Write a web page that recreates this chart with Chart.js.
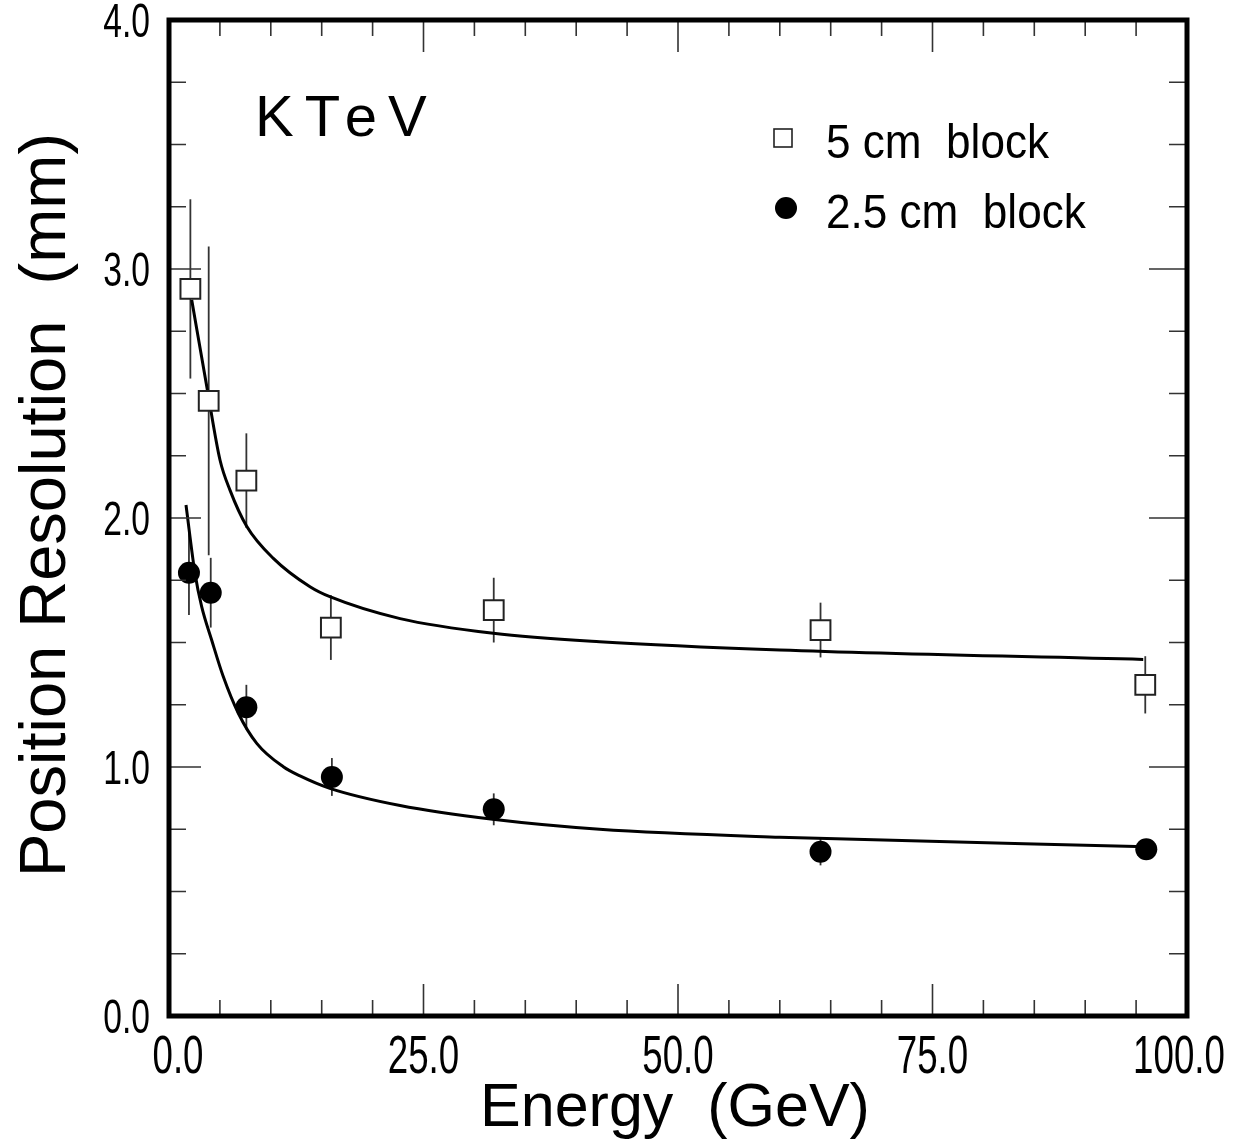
<!DOCTYPE html>
<html>
<head>
<meta charset="utf-8">
<script src="https://cdn.jsdelivr.net/npm/chart.js@4.4.0/dist/chart.umd.min.js"></script>
<style>
  html, body { margin: 0; padding: 0; background: #fff; }
  canvas { display: block; }
</style>
</head>
<body>
<canvas id="grafico" width="1235" height="1147"></canvas>
<script>
// --- datos ---
// bloque de 5 cm (cuadrados abiertos)
const energia5 = [2.1, 3.9, 7.6, 15.9, 31.9, 64.0, 95.9];
const resol5 = [2.92, 2.47, 2.15, 1.56, 1.63, 1.55, 1.33];
const error5 = [0.36, 0.62, 0.19, 0.13, 0.13, 0.11, 0.115];

// bloque de 2.5 cm (circulos llenos)
const energia25 = [1.96, 4.1, 7.6, 16.0, 31.9, 64.0, 96.0];
const resol25 = [1.78, 1.70, 1.24, 0.96, 0.83, 0.66, 0.67];
const error25 = [0.17, 0.14, 0.09, 0.076, 0.064, 0.055, 0.03];

// curvas de ajuste (puntos leidos sobre la linea)
const ajusteX5 = [2.23, 3.77, 5.01, 5.99, 7.63, 10.25, 13.85, 15.8, 22.7, 31.86, 42.3, 60.0, 95.7];
const ajusteY5 = [2.876, 2.514, 2.233, 2.112, 1.967, 1.838, 1.724, 1.684, 1.596, 1.537, 1.503, 1.470, 1.432];
const ajusteX25 = [1.67, 2.55, 3.21, 4.19, 5.33, 6.81, 8.62, 11.23, 12.87, 15.8, 22.7, 31.8, 42.3, 60.0, 96.0];
const ajusteY25 = [2.052, 1.778, 1.644, 1.510, 1.363, 1.216, 1.095, 1.001, 0.964, 0.914, 0.845, 0.790, 0.750, 0.718, 0.680];

// ejes
const ticksX = [0, 25, 50, 75, 100];
const etiquetasX = ["0.0", "25.0", "50.0", "75.0", "100.0"];
const ticksY = [0, 1, 2, 3, 4];
const etiquetasY = ["0.0", "1.0", "2.0", "3.0", "4.0"];
const nombres = ["5 cm  block", "2.5 cm  block"];

const FUENTE = '"Liberation Sans", Arial, Helvetica, sans-serif';

function puntos(xs, ys) {
    return xs.map((x, i) => ({ x: x, y: ys[i] }));
}

function texto(ctx, str, x, y, size, align, escalaX) {
    ctx.save();
    ctx.font = size + 'px ' + FUENTE;
    ctx.fillStyle = '#000';
    ctx.textBaseline = 'alphabetic';
    ctx.translate(x, y);
    ctx.scale(escalaX || 1, 1);
    ctx.textAlign = align;
    ctx.fillText(str, 0, 0);
    ctx.restore();
}

// barras de error verticales, antes de los marcadores
const barrasError = {
    id: 'barrasError',
    beforeDatasetsDraw(chart) {
        const ctx = chart.ctx;
        const sx = chart.scales.x, sy = chart.scales.y;
        ctx.save();
        ctx.strokeStyle = '#333';
        ctx.lineWidth = 1.8;
        const dibujar = (xs, ys, es) => {
            xs.forEach((e, i) => {
                const px = sx.getPixelForValue(e);
                ctx.beginPath();
                ctx.moveTo(px, sy.getPixelForValue(ys[i] + es[i]));
                ctx.lineTo(px, sy.getPixelForValue(ys[i] - es[i]));
                ctx.stroke();
            });
        };
        dibujar(energia5, resol5, error5);
        dibujar(energia25, resol25, error25);
        ctx.restore();
    }
};

// marco, ticks hacia dentro, textos y leyenda
const marco = {
    id: 'marco',
    afterDraw(chart) {
        const ctx = chart.ctx;
        const a = chart.chartArea;
        const sx = chart.scales.x, sy = chart.scales.y;
        ctx.save();

        // ticks
        ctx.strokeStyle = '#333';
        ctx.lineWidth = 1.6;
        ctx.beginPath();
        for (let v = 0; v <= 100; v += 5) {
            const px = sx.getPixelForValue(v);
            const largo = v % 25 === 0 ? 32 : 16;
            ctx.moveTo(px, a.bottom); ctx.lineTo(px, a.bottom - largo);
            ctx.moveTo(px, a.top); ctx.lineTo(px, a.top + largo);
        }
        for (let k = 0; k <= 16; k++) {
            const v = k * 0.25;
            const py = sy.getPixelForValue(v);
            const mayor = k % 4 === 0;
            ctx.moveTo(a.left, py); ctx.lineTo(a.left + (mayor ? 32 : 17), py);
            ctx.moveTo(a.right, py); ctx.lineTo(a.right - (mayor ? 38 : 18), py);
        }
        ctx.stroke();

        // marco
        ctx.strokeStyle = '#000';
        ctx.lineWidth = 5;
        ctx.strokeRect(a.left, a.top, a.right - a.left, a.bottom - a.top);

        // etiquetas eje y (estrechas)
        ticksY.forEach((v, i) => {
            texto(ctx, etiquetasY[i], 150, sy.getPixelForValue(v) + 17, 48, 'right', 0.7);
        });
        // etiquetas eje x (estrechas)
        ticksX.forEach((v, i) => {
            let px = sx.getPixelForValue(v);
            if (i === 0) px += 9;
            if (i === ticksX.length - 1) px -= 8;
            texto(ctx, etiquetasX[i], px, 1073, 54, 'center', 0.68);
        });

        // titulos
        texto(ctx, 'Energy  (GeV)', 675, 1126, 61, 'center');
        ctx.save();
        ctx.translate(65, 505);
        ctx.rotate(-Math.PI / 2);
        texto(ctx, 'Position Resolution  (mm)', 0, 0, 65, 'center');
        ctx.restore();

        // KTeV
        ctx.save();
        ctx.font = '58px ' + FUENTE;
        ctx.letterSpacing = '11px';
        ctx.fillStyle = '#000';
        ctx.textAlign = 'left';
        ctx.fillText('KTeV', 255, 136);
        ctx.restore();

        // leyenda
        ctx.strokeStyle = '#222';
        ctx.lineWidth = 1.6;
        ctx.fillStyle = '#fff';
        ctx.fillRect(774, 129, 18, 18);
        ctx.strokeRect(774, 129, 18, 18);
        ctx.fillStyle = '#000';
        ctx.beginPath();
        ctx.arc(786, 208, 11, 0, Math.PI * 2);
        ctx.fill();
        texto(ctx, nombres[0], 826, 158, 49, 'left', 0.9);
        texto(ctx, nombres[1], 826, 228, 49, 'left', 0.9);

        ctx.restore();
    }
};

new Chart(document.getElementById('grafico'), {
    type: 'scatter',
    data: {
        datasets: [
            {
                label: nombres[0],
                data: puntos(energia5, resol5),
                pointStyle: 'rect',
                pointRadius: 14,
                backgroundColor: '#fff',
                borderColor: '#222',
                borderWidth: 2,
                order: 1
            },
            {
                label: nombres[1],
                data: puntos(energia25, resol25),
                pointStyle: 'circle',
                pointRadius: 11,
                backgroundColor: '#000',
                borderColor: '#000',
                borderWidth: 0,
                order: 1
            },
            {
                label: 'ajuste 5 cm',
                data: puntos(ajusteX5, ajusteY5),
                showLine: true,
                pointRadius: 0,
                borderColor: '#000',
                borderWidth: 3,
                cubicInterpolationMode: 'monotone',
                fill: false,
                order: 2
            },
            {
                label: 'ajuste 2.5 cm',
                data: puntos(ajusteX25, ajusteY25),
                showLine: true,
                pointRadius: 0,
                borderColor: '#000',
                borderWidth: 3,
                cubicInterpolationMode: 'monotone',
                fill: false,
                order: 2
            }
        ]
    },
    options: {
        responsive: false,
        animation: false,
        devicePixelRatio: 1,
        layout: { padding: { left: 169, top: 20, right: 48, bottom: 131 } },
        plugins: { legend: { display: false }, tooltip: { enabled: false } },
        scales: {
            x: { type: 'linear', min: 0, max: 100, display: false },
            y: { type: 'linear', min: 0, max: 4, display: false }
        }
    },
    plugins: [barrasError, marco]
});
</script>
</body>
</html>
